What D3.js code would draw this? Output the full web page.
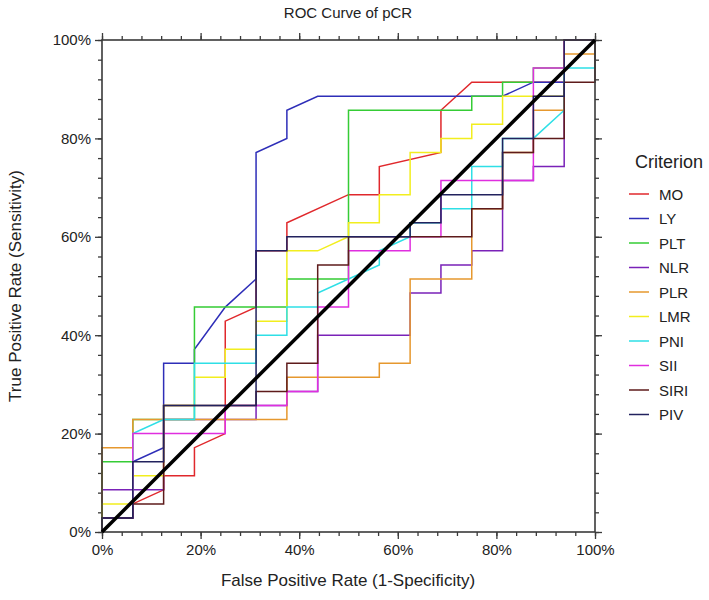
<!DOCTYPE html>
<html><head><meta charset="utf-8">
<script src="https://cdn.jsdelivr.net/npm/d3@7"></script>
<style>
body{margin:0;background:#fff;}
text{font-family:"Liberation Sans",Arial,sans-serif;}
</style></head>
<body><svg id="c" width="709" height="600"></svg>
<script>
// Step counts: x = false positives out of 16 negatives, y = true positives out of 35 positives
const nNeg = 16, nPos = 35;
const names = ["MO","LY","PLT","NLR","PLR","LMR","PNI","SII","SIRI","PIV"];
const colors = ["#e0282c","#2e2eb8","#35cc35","#7a22b8","#e6982e","#f2ee1e","#2edfe6","#e02edf","#5e1b1b","#22225e"];
const MO  = [[0,0],[0,1],[1,1],[1,2],[2,3],[2,4],[3,4],[3,6],[4,7],[4,15],[5,16],[5,20],[6,20],[6,22],[8,24],[9,24],[9,26],[11,27],[11,30],[12,32],[15,32],[15,35],[16,35]];
const LY  = [[0,0],[0,1],[1,1],[1,5],[2,6],[2,12],[3,12],[3,13],[4,16],[5,18],[5,27],[6,28],[6,30],[7,31],[13,31],[14,32],[15,32],[15,35],[16,35]];
const PLT = [[0,0],[0,5],[1,5],[1,8],[3,8],[3,16],[6,16],[6,18],[8,18],[8,30],[12,30],[12,31],[13,31],[13,32],[14,32],[14,33],[15,33],[15,35],[16,35]];
const NLR = [[0,0],[0,3],[2,3],[2,8],[5,8],[5,9],[6,9],[6,10],[7,10],[7,14],[10,14],[10,17],[11,17],[11,19],[12,19],[12,20],[13,20],[13,25],[14,25],[14,26],[15,26],[15,35],[16,35]];
const PLR = [[0,0],[0,6],[1,6],[1,8],[6,8],[6,11],[9,11],[9,12],[10,12],[10,18],[12,18],[12,23],[13,23],[13,27],[14,27],[14,30],[15,30],[15,34],[16,34],[16,35]];
const LMR = [[0,0],[0,2],[1,2],[1,4],[2,4],[2,9],[3,9],[3,11],[4,11],[4,13],[5,13],[5,15],[6,15],[6,20],[7,20],[8,21],[8,22],[9,22],[9,24],[10,24],[10,27],[11,27],[11,28],[12,28],[12,29],[13,29],[13,31],[15,31],[15,35],[16,35]];
const PNI = [[0,0],[0,1],[1,1],[1,7],[2,8],[3,8],[3,12],[5,12],[5,14],[6,14],[6,16],[7,16],[7,17],[9,19],[9,20],[10,21],[10,22],[11,22],[11,23],[12,23],[12,26],[13,26],[13,28],[14,28],[15,30],[15,33],[16,33],[16,35]];
const SII = [[0,0],[0,1],[1,1],[1,7],[4,7],[4,9],[6,9],[6,10],[7,10],[7,16],[8,16],[8,20],[10,20],[10,21],[11,21],[11,25],[14,25],[14,33],[15,33],[15,35],[16,35]];
const SIRI= [[0,0],[0,1],[1,1],[1,2],[2,2],[2,9],[5,9],[5,10],[6,10],[6,12],[7,12],[7,19],[8,19],[8,21],[12,21],[12,23],[13,23],[13,27],[14,27],[14,28],[15,28],[15,32],[16,32],[16,35]];
const PIV = [[0,0],[0,1],[1,1],[1,5],[2,5],[2,9],[5,9],[5,20],[6,20],[6,21],[10,21],[10,22],[11,22],[11,24],[13,24],[13,28],[14,28],[14,31],[15,31],[15,35],[16,35]];
const seriesData = [MO,LY,PLT,NLR,PLR,LMR,PNI,SII,SIRI,PIV];
const majorTicks = [0,20,40,60,80,100];
const minorTicks = d3.range(0,101,4);
const title = "ROC Curve of pCR";
const xTitle = "False Positive Rate (1-Specificity)";
const yTitle = "True Positive Rate (Sensitivity)";
const legendTitle = "Criterion";

const svg = d3.select("#c");
const L=102,R=595,T=40,B=532;
const x = d3.scaleLinear().domain([0,nNeg]).range([L,R]);
const y = d3.scaleLinear().domain([0,nPos]).range([B,T]);
const xp = d3.scaleLinear().domain([0,100]).range([L,R]);
const yp = d3.scaleLinear().domain([0,100]).range([B,T]);
const axisColor="#3a3a3a";

function styleAxis(g){
  g.select(".domain").remove();
  g.selectAll("line").attr("stroke",axisColor).attr("stroke-width",1.3);
  g.selectAll("text").attr("font-size",15).attr("fill","#222").attr("font-family","Liberation Sans, Arial, sans-serif");
}
const fmt = d=>d+"%";
// minor ticks
svg.append("g").attr("transform",`translate(0,${B})`).call(d3.axisBottom(xp).tickValues(minorTicks).tickSize(4).tickFormat("")).call(styleAxis);
svg.append("g").attr("transform",`translate(0,${T})`).call(d3.axisTop(xp).tickValues(minorTicks).tickSize(4).tickFormat("")).call(styleAxis);
svg.append("g").attr("transform",`translate(${L},0)`).call(d3.axisLeft(yp).tickValues(minorTicks).tickSize(4).tickFormat("")).call(styleAxis);
svg.append("g").attr("transform",`translate(${R},0)`).call(d3.axisRight(yp).tickValues(minorTicks).tickSize(4).tickFormat("")).call(styleAxis);
// major ticks
svg.append("g").attr("transform",`translate(0,${B})`).call(d3.axisBottom(xp).tickValues(majorTicks).tickSize(7).tickPadding(5).tickFormat(fmt)).call(styleAxis);
svg.append("g").attr("transform",`translate(0,${T})`).call(d3.axisTop(xp).tickValues(majorTicks).tickSize(7).tickFormat("")).call(styleAxis);
svg.append("g").attr("transform",`translate(${L},0)`).call(d3.axisLeft(yp).tickValues(majorTicks).tickSize(7).tickPadding(4).tickFormat(fmt)).call(styleAxis);
svg.append("g").attr("transform",`translate(${R},0)`).call(d3.axisRight(yp).tickValues(majorTicks).tickSize(7).tickFormat("")).call(styleAxis);

// curves
const line = d3.line().x(d=>x(d[0])).y(d=>y(d[1]));
seriesData.forEach((pts,i)=>{
  svg.append("path").attr("d",line(pts)).attr("fill","none")
    .attr("stroke",colors[i]).attr("stroke-width",1.5).attr("stroke-linejoin","miter");
});
// frame
svg.append("rect").attr("x",L).attr("y",T).attr("width",R-L).attr("height",B-T)
  .attr("fill","none").attr("stroke",axisColor).attr("stroke-width",1.6);
// reference diagonal
svg.append("line").attr("x1",xp(0)).attr("y1",yp(0)).attr("x2",xp(100)).attr("y2",yp(100))
  .attr("stroke","#000").attr("stroke-width",3.5);

// titles
svg.append("text").attr("x",348).attr("y",18).attr("text-anchor","middle").attr("font-size",15).attr("fill","#222").text(title);
svg.append("text").attr("x",348).attr("y",586).attr("text-anchor","middle").attr("font-size",17).attr("fill","#222").text(xTitle);
svg.append("text").attr("transform","translate(21,286) rotate(-90)").attr("text-anchor","middle").attr("font-size",17).attr("fill","#222").text(yTitle);

// legend
svg.append("text").attr("x",635).attr("y",168).attr("font-size",18).attr("fill","#222").text(legendTitle);
names.forEach((n,i)=>{
  const yy = 194 + i*24.5;
  svg.append("line").attr("x1",629).attr("x2",649).attr("y1",yy).attr("y2",yy).attr("stroke",colors[i]).attr("stroke-width",1.5);
  svg.append("text").attr("x",659).attr("y",yy+5.5).attr("font-size",15).attr("fill","#222").text(n);
});
</script></body></html>
